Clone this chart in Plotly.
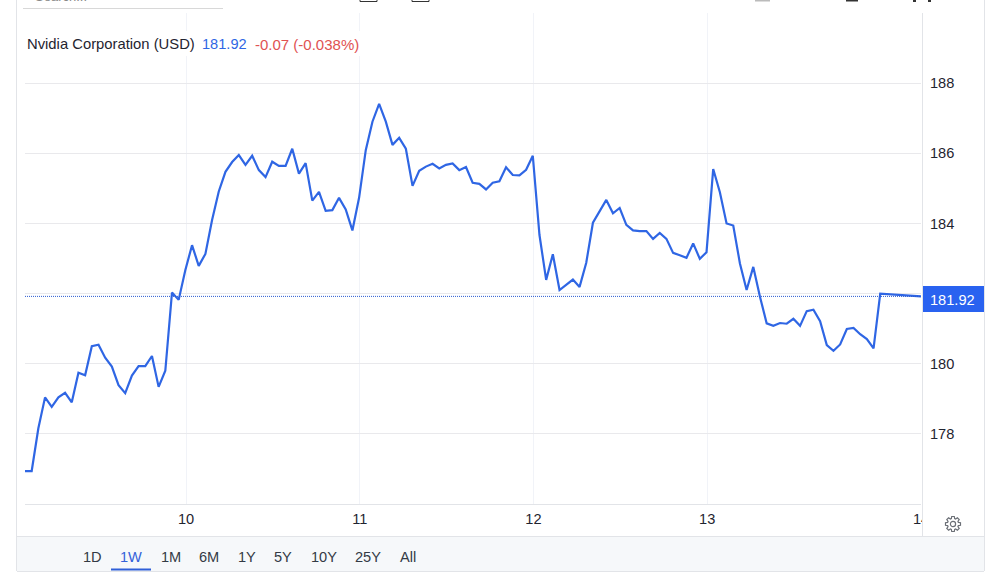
import math
import plotly.graph_objects as go

# Close prices (15-minute steps), last point is the current quote
prices = [
 176.94,176.94,178.16,179.04,178.77,179.04,179.17,178.90,179.74,179.67,
 180.50,180.54,180.17,179.92,179.39,179.16,179.66,179.93,179.93,180.22,
 179.34,179.80,182.03,181.82,182.67,183.38,182.79,183.13,184.10,184.91,
 185.47,185.75,185.95,185.67,185.93,185.52,185.32,185.76,185.64,185.64,
 186.13,185.42,185.72,184.65,184.90,184.36,184.38,184.73,184.40,183.80,
 184.73,186.09,186.90,187.41,186.90,186.24,186.44,186.13,185.07,185.50,
 185.62,185.70,185.57,185.67,185.71,185.52,185.61,185.16,185.13,184.97,
 185.16,185.20,185.60,185.38,185.37,185.53,185.93,183.67,182.39,183.12,
 182.10,182.26,182.40,182.19,182.88,184.02,184.35,184.67,184.29,184.44,
 183.96,183.80,183.78,183.78,183.56,183.73,183.56,183.16,183.09,183.02,
 183.43,182.99,183.18,185.55,184.89,184.00,183.94,182.86,182.10,182.76,
 181.91,181.15,181.08,181.16,181.14,181.28,181.08,181.50,181.54,181.21,
 180.53,180.37,180.55,180.99,181.02,180.84,180.70,180.44,182.00,181.92,
]
sessions = list(range(len(prices) - 1)) + [134.1]
day_positions = [24.1, 50.1, 76.1, 102.1, 134.1]
day_labels = ["10", "11", "12", "13", "14"]
price_ticks = [178, 180, 182, 184, 186, 188]
price_tick_labels = ["178", "180", "", "184", "186", "188"]
last_price = 181.92
range_buttons = ["1D", "1W", "1M", "6M", "1Y", "5Y", "10Y", "25Y", "All"]
button_centers = [92, 131, 171, 209, 247, 283, 324, 368, 408]

BLUE = "#2f66e4"
TAG = "#2962f0"
RED = "#e05252"
INK = "#1f2430"
GRID_H = "#e9e9ec"
GRID_V = "#f1f3f8"
EDGE = "#e2e4e8"

L, R, T, B = 25, 921, 13, 504
def X(p): return (p - L) / (R - L)
def Y(p): return (B - p) / (B - T)

def rect(x0, y0, x1, y1, fill, line=None, layer="above"):
    return dict(type="rect", xref="paper", yref="paper", x0=X(x0), x1=X(x1), y0=Y(y0), y1=Y(y1),
                fillcolor=fill, line=dict(width=1 if line else 0, color=line or fill), layer=layer)

def hline(x0, x1, y, color, width=1, dash="solid"):
    return dict(type="line", xref="paper", yref="paper", x0=X(x0), x1=X(x1), y0=Y(y), y1=Y(y),
                line=dict(color=color, width=width, dash=dash), layer="above")

def vline(x, y0, y1, color):
    return dict(type="line", xref="paper", yref="paper", x0=X(x), x1=X(x), y0=Y(y0), y1=Y(y1),
                line=dict(color=color, width=1), layer="above")

def gear(cx, cy):
    pts = []
    n = 8
    for i in range(n):
        a = 2 * math.pi * i / n
        for da, r in [(-0.30, 5.6), (-0.17, 7.6), (0.17, 7.6), (0.30, 5.6)]:
            pts.append((cx + r * math.cos(a + da), cy + r * math.sin(a + da)))
    d = "M " + " L ".join(f"{X(px):.5f},{Y(py):.5f}" for px, py in pts) + " Z"
    outer = dict(type="path", xref="paper", yref="paper", path=d, fillcolor="rgba(0,0,0,0)",
                 line=dict(color="#6b6f76", width=1.2), layer="above")
    inner = dict(type="circle", xref="paper", yref="paper", x0=X(cx - 2.6), x1=X(cx + 2.6),
                 y0=Y(cy + 2.6), y1=Y(cy - 2.6), line=dict(color="#6b6f76", width=1.2),
                 fillcolor="rgba(0,0,0,0)", layer="above")
    return [outer, inner]

fig = go.Figure()
fig.add_trace(go.Scatter(x=sessions, y=prices, mode="lines", cliponaxis=False,
                         line=dict(color=BLUE, width=2.2), hoverinfo="skip", showlegend=False))

shapes = [
    # right label column, hides the clipped part of the last day label
    rect(922, 505, 984, 536, "#ffffff"),
    # bottom range bar
    rect(17, 536, 984, 571, "#f6f8fa"),
    hline(17, 984, 536.5, EDGE),
    hline(17, 984, 571.5, EDGE),
    vline(16.5, 0, 571, EDGE),
    vline(984.5, 0, 571, EDGE),
    vline(922.5, 13, 536, EDGE),
    hline(111, 151, 569.5, "#2f5fd8", width=2),
    # search underline
    hline(23, 223, 8.5, "#d8d8d8"),
    # title backing hides the vertical grid behind the text
    rect(26, 31, 360, 56, "#ffffff"),
    # last price line and tag
    dict(type="line", xref="paper", yref="y", x0=0, x1=1, y0=last_price, y1=last_price,
         line=dict(color="#2a5bd0", width=1, dash="1px,1px"), layer="above"),
    rect(923, 286, 984, 312, TAG),
    # clipped toolbar icons
    dict(type="rect", xref="paper", yref="paper", x0=X(360), x1=X(377), y0=Y(1.5), y1=Y(-4),
         fillcolor="rgba(0,0,0,0)", line=dict(color="#333", width=1), layer="above"),
    dict(type="rect", xref="paper", yref="paper", x0=X(412), x1=X(429), y0=Y(1.5), y1=Y(-4),
         fillcolor="rgba(0,0,0,0)", line=dict(color="#333", width=1), layer="above"),
    rect(755, 0, 770, 1.5, "#bbbbbb"),
    rect(846, 0, 858, 1.5, "#333333"),
    rect(913, 0, 916, 2, "#333333"),
    rect(928, 0, 931, 2, "#333333"),
] + gear(953, 524)

annotations = []
def text(x, y, s, color=INK, size=14, anchor="left"):
    annotations.append(dict(x=X(x), y=Y(y), xref="paper", yref="paper", text=s, showarrow=False,
                            xanchor=anchor, yanchor="middle", align=anchor,
                            font=dict(family="Liberation Sans, Arial, sans-serif", size=size, color=color)))

text(25, 44, "Nvidia Corporation (USD)", INK, 14.8)
text(200, 44, f"{last_price:.2f}", BLUE, 14.6)
text(253, 44, "-0.07 (-0.038%)", RED, 15)
text(977, 300, f"{last_price:.2f}", "#ffffff", 14.6, "right")
text(33, -3, "Search...", "#888888", 13)
for name, c in zip(range_buttons, button_centers):
    text(c, 557, name, "#3461d9" if name == "1W" else "#333a45", 14.6, "center")

fig.update_layout(
    width=1002, height=576, autosize=False,
    margin=dict(l=L, r=1002 - R, t=T, b=576 - B, pad=0),
    paper_bgcolor="#ffffff", plot_bgcolor="#ffffff",
    shapes=shapes, annotations=annotations, showlegend=False,
    xaxis=dict(range=[0, 134.1], tickmode="array", tickvals=day_positions, ticktext=day_labels,
               showgrid=True, gridcolor=GRID_V, gridwidth=1, zeroline=False, showline=True,
               linecolor=EDGE, linewidth=1, ticks="", ticklabelstandoff=1,
               tickfont=dict(family="Liberation Sans, Arial, sans-serif", size=14.6, color=INK)),
    yaxis=dict(range=[176, 190], side="right", tickmode="array", tickvals=price_ticks,
               ticktext=price_tick_labels, showgrid=True, gridcolor=GRID_H, gridwidth=1,
               zeroline=False, showline=False, ticks="", ticklabelstandoff=8,
               tickfont=dict(family="Liberation Sans, Arial, sans-serif", size=14.6, color=INK)),
)

fig.write_html("out.html", config=dict(displayModeBar=False),
               post_script="document.body.style.margin='0';document.body.style.overflow='hidden';")
